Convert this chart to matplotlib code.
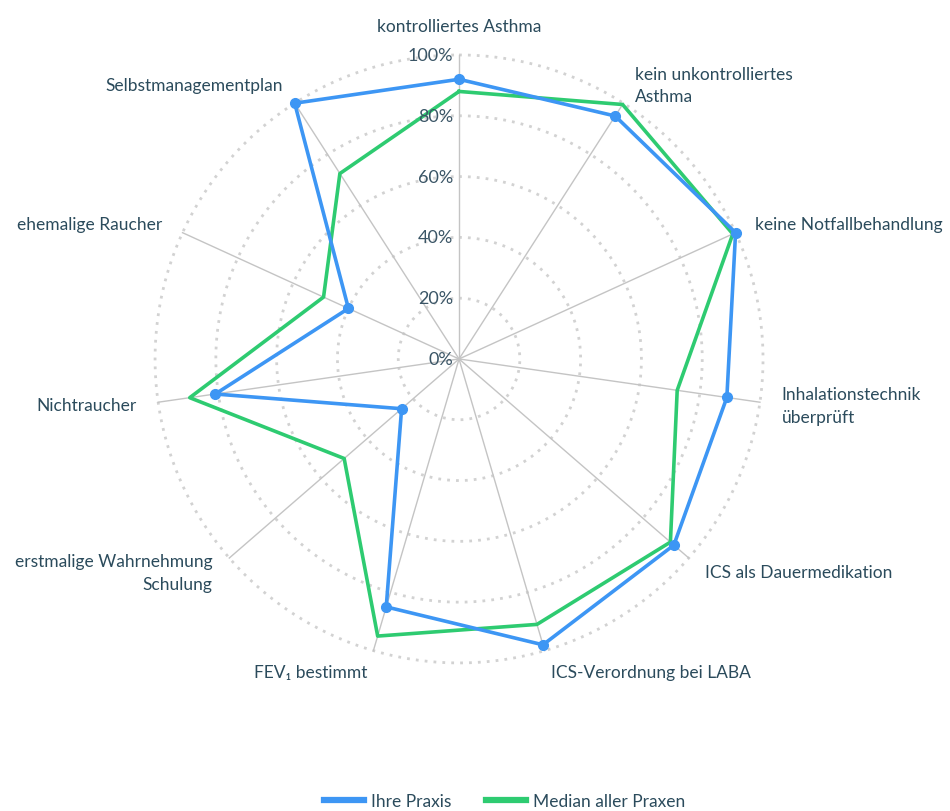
import numpy as np
import matplotlib
matplotlib.use("Agg")
import matplotlib.pyplot as plt
from matplotlib.lines import Line2D

plt.rcParams['font.family'] = ['Lato', 'DejaVu Sans']

categories = [
    "kontrolliertes Asthma",
    "kein unkontrolliertes\nAsthma",
    "keine Notfallbehandlung",
    "Inhalationstechnik\nüberprüft",
    "ICS als Dauermedikation",
    "ICS-Verordnung bei LABA",
    "FEV₁ bestimmt",
    "erstmalige Wahrnehmung\nSchulung",
    "Nichtraucher",
    "ehemalige Raucher",
    "Selbstmanagementplan",
]
ihre_praxis = [92, 95, 100, 89, 93.5, 98, 85, 25, 81, 40, 100]
median_praxen = [88, 99.5, 99, 72.5, 92, 91, 95, 50, 89.5, 49, 72.5]
r_ticks = [0, 20, 40, 60, 80, 100]
r_tick_labels = ["0%", "20%", "40%", "60%", "80%", "100%"]

blue = "#3d96f4"
green = "#2ecb71"
text_col = "#2b4b5c"

n = len(categories)
theta = np.arange(n) * 2 * np.pi / n

fig = plt.figure(figsize=(9.5, 8.12), dpi=100)
ax = fig.add_axes([0.1632, 0.1823, 0.64, 0.7488], projection='polar')
ax.set_theta_zero_location('N')
ax.set_theta_direction(-1)
ax.set_ylim(0, 100)
ax.spines['polar'].set_visible(False)
ax.grid(False)
ax.set_xticks([])
ax.set_yticks([])
ax.set_facecolor('none')

# circles
tt = np.linspace(0, 2 * np.pi, 400)
for r in r_ticks[1:]:
    ax.plot(tt, np.full_like(tt, r), color="#d2d2d2", lw=2.0,
            linestyle=(0, (1, 2.2)), zorder=1, clip_on=False)
# spokes
for t in theta:
    ax.plot([t, t], [0, 100], color="#c4c4c4", lw=1.0, zorder=1, clip_on=False)

# data
tc = np.append(theta, theta[0])
ax.plot(tc, np.append(median_praxen, median_praxen[0]), color=green, lw=2.6,
        zorder=3, clip_on=False)
ax.plot(tc, np.append(ihre_praxis, ihre_praxis[0]), color=blue, lw=2.6,
        zorder=4, clip_on=False)
ax.plot(theta, ihre_praxis, 'o', color=blue, ms=7, zorder=5, clip_on=False)

# radial tick labels
for r, lab in zip(r_ticks, r_tick_labels):
    ax.annotate(lab, xy=(0, r), xytext=(-4, 0), textcoords='offset points',
                ha='right', va='center', fontsize=13, color="#3a5566", zorder=6)

# category labels
for t, lab in zip(theta, categories):
    s = np.sin(t)
    if abs(s) < 1e-6:
        ax.text(t, 107, lab, ha='center', va='bottom', fontsize=12.5,
                color=text_col, linespacing=1.5)
    else:
        ha = 'left' if s > 0 else 'right'
        ax.text(t, 107.2, lab, ha=ha, va='center', fontsize=12.5,
                color=text_col, linespacing=1.5)

handles = [Line2D([], [], color=blue, lw=4.5), Line2D([], [], color=green, lw=4.5)]
fig.legend(handles, ["Ihre Praxis", "Median aller Praxen"], loc='center',
           bbox_to_anchor=(505 / 950, 1 - 802 / 812), ncol=2, frameon=False,
           fontsize=12.5, handlelength=2.3, handletextpad=0.4, columnspacing=2.0,
           labelcolor=text_col)

fig.savefig("out.png", dpi=100, facecolor='white')
